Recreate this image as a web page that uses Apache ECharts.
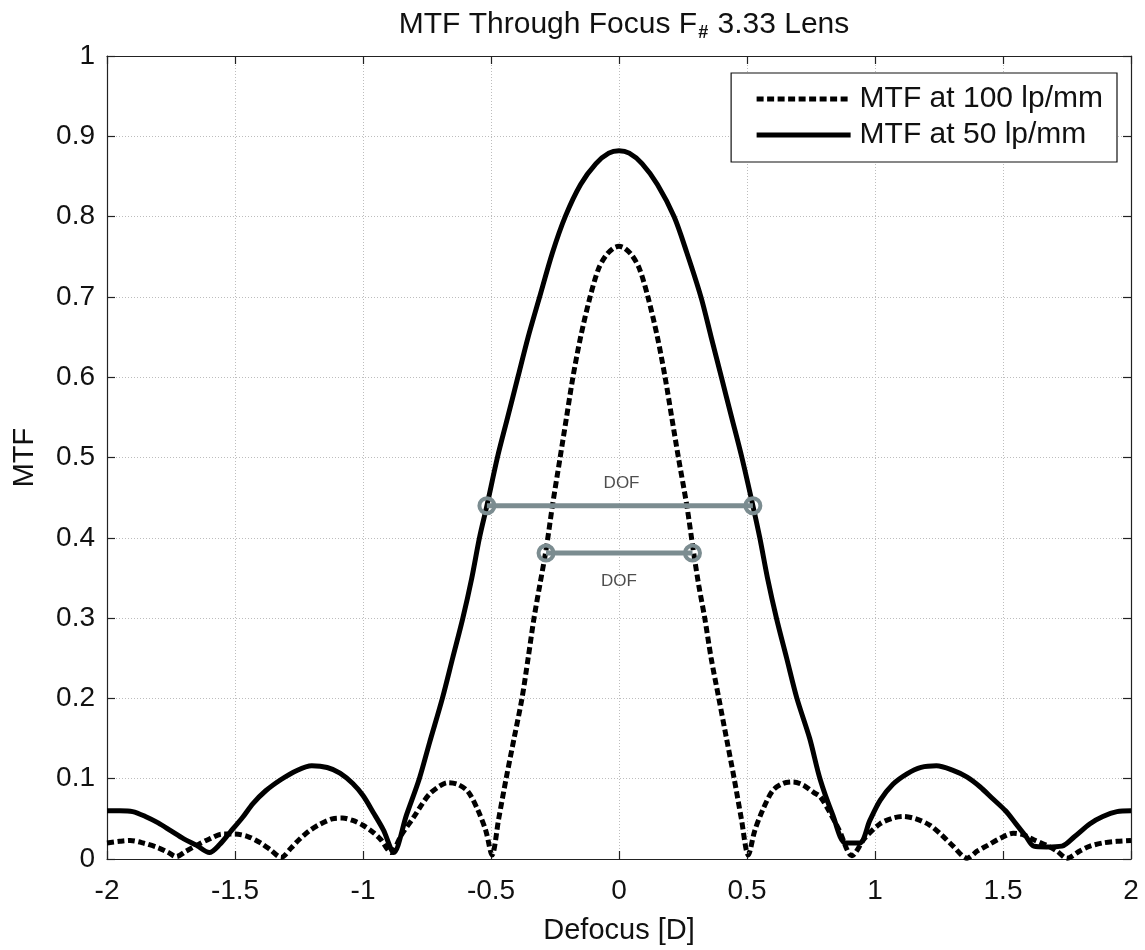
<!DOCTYPE html>
<html>
<head>
<meta charset="utf-8">
<title>MTF Through Focus</title>
<script src="https://cdn.jsdelivr.net/npm/echarts@6/dist/echarts.min.js"></script>
<style>
  html, body { margin: 0; padding: 0; background: #fff; }
  #chart { width: 1145px; height: 950px; }
</style>
</head>
<body>
<div id="chart"></div>
<script>
// Defocus positions [D] and MTF values, 50 lp/mm curve
const defocus50 = [
  -2.00, -1.95, -1.90, -1.85, -1.80, -1.75, -1.70, -1.65, -1.60, -1.56,
  -1.52, -1.47, -1.43, -1.38, -1.32, -1.26, -1.20, -1.14, -1.09, -1.04,
  -1.00, -0.96, -0.92, -0.88, -0.83, -0.78, -0.74, -0.69, -0.65, -0.61,
  -0.575, -0.545, -0.516, -0.475, -0.435, -0.395, -0.355, -0.31, -0.26, -0.21,
  -0.15, -0.09, -0.04, 0.00, 0.04, 0.09, 0.15, 0.215, 0.265, 0.32,
  0.36, 0.40, 0.44, 0.48, 0.523, 0.55, 0.58, 0.615, 0.655, 0.695,
  0.745, 0.785, 0.835, 0.885, 0.94, 0.98, 1.02, 1.07, 1.125, 1.18,
  1.24, 1.30, 1.36, 1.41, 1.46, 1.51, 1.55, 1.59, 1.62, 1.67,
  1.73, 1.78, 1.84, 1.89, 1.945, 2.00
];
const mtf50 = [
  0.060, 0.060, 0.059, 0.053, 0.045, 0.035, 0.025, 0.017, 0.008, 0.018,
  0.033, 0.052, 0.069, 0.085, 0.099, 0.110, 0.116, 0.114, 0.107, 0.094,
  0.079, 0.058, 0.036, 0.008, 0.055, 0.100, 0.145, 0.200, 0.250, 0.300,
  0.350, 0.400, 0.440, 0.500, 0.550, 0.600, 0.650, 0.700, 0.755, 0.800,
  0.840, 0.866, 0.879, 0.882, 0.879, 0.866, 0.840, 0.800, 0.755, 0.700,
  0.650, 0.600, 0.550, 0.500, 0.440, 0.400, 0.350, 0.300, 0.250, 0.200,
  0.150, 0.100, 0.055, 0.020, 0.020, 0.048, 0.073, 0.093, 0.106, 0.114,
  0.116, 0.111, 0.102, 0.090, 0.075, 0.060, 0.044, 0.028, 0.016, 0.015,
  0.016, 0.028, 0.044, 0.053, 0.059, 0.060
];

// Defocus positions [D] and MTF values, 100 lp/mm curve
const defocus100 = [
  -2.00, -1.95, -1.91, -1.86, -1.80, -1.76, -1.73, -1.69, -1.65, -1.60,
  -1.55, -1.50, -1.45, -1.40, -1.36, -1.32, -1.28, -1.25, -1.21, -1.17,
  -1.12, -1.08, -1.04, -1.00, -0.96, -0.93, -0.89, -0.85, -0.80, -0.77,
  -0.74, -0.70, -0.67, -0.63, -0.59, -0.55, -0.52, -0.496, -0.47, -0.441,
  -0.41, -0.379, -0.355, -0.332, -0.31, -0.285, -0.26, -0.23, -0.205, -0.18,
  -0.15, -0.113, -0.08, -0.05, -0.02, 0.00, 0.02, 0.05, 0.08, 0.113,
  0.15, 0.18, 0.206, 0.232, 0.265, 0.29, 0.312, 0.335, 0.36, 0.39,
  0.42, 0.45, 0.478, 0.505, 0.53, 0.56, 0.60, 0.64, 0.68, 0.72,
  0.76, 0.785, 0.82, 0.86, 0.91, 0.96, 1.02, 1.07, 1.11, 1.16,
  1.215, 1.26, 1.305, 1.36, 1.40, 1.44, 1.49, 1.54, 1.58, 1.62,
  1.67, 1.71, 1.75, 1.80, 1.84, 1.89, 1.945, 2.00
];
const mtf100 = [
  0.020, 0.022, 0.023, 0.020, 0.014, 0.008, 0.003, 0.010, 0.017, 0.025,
  0.031, 0.031, 0.028, 0.020, 0.011, 0.002, 0.014, 0.024, 0.035, 0.043,
  0.050, 0.051, 0.048, 0.042, 0.033, 0.024, 0.008, 0.030, 0.053, 0.068,
  0.081, 0.091, 0.095, 0.093, 0.084, 0.060, 0.035, 0.005, 0.050, 0.100,
  0.150, 0.200, 0.250, 0.300, 0.340, 0.385, 0.440, 0.500, 0.550, 0.600,
  0.650, 0.700, 0.735, 0.752, 0.761, 0.763, 0.761, 0.752, 0.735, 0.700,
  0.650, 0.600, 0.550, 0.500, 0.440, 0.385, 0.340, 0.300, 0.250, 0.200,
  0.150, 0.100, 0.050, 0.005, 0.035, 0.060, 0.085, 0.094, 0.096, 0.092,
  0.083, 0.078, 0.060, 0.036, 0.004, 0.026, 0.044, 0.051, 0.053, 0.050,
  0.042, 0.030, 0.016, 0.001, 0.010, 0.017, 0.026, 0.032, 0.030, 0.024,
  0.017, 0.010, 0.001, 0.010, 0.016, 0.020, 0.022, 0.023
];

// Depth-of-focus markers: [left defocus, right defocus, MTF level]
const dof50 = [-0.516, 0.523, 0.44];
const dof100 = [-0.285, 0.287, 0.381];
const dofLabelPos = [[0.01, 0.468], [0.0, 0.346]];

const xTicks = { min: -2, max: 2, interval: 0.5 };
const yTicks = { min: 0, max: 1, interval: 0.1 };

const seriesNames = ['MTF at 100 lp/mm', 'MTF at 50 lp/mm'];
const titleText = 'MTF Through Focus F';

const FONT = '"Liberation Sans", Arial, Helvetica, sans-serif';
const DOF_COLOR = '#7b8c90';

// plot box in pixels
const GRID = { left: 107, right: 14, top: 56, bottom: 84 };
const PAGE_W = 1145;

const pairs = (xs, ys) => xs.map((x, i) => [x, ys[i]]);

const gridLine = { show: true, lineStyle: { color: '#bdbdbd', width: 1, type: [1, 2] } };
const axisLine = { show: true, onZero: false, lineStyle: { color: '#222', width: 1.2 } };
const innerTick = { show: true, inside: true, length: 8, lineStyle: { color: '#222', width: 1.2 } };

const chart = echarts.init(document.getElementById('chart'), null, { renderer: 'canvas' });

chart.setOption({
  backgroundColor: '#fff',
  animation: false,
  textStyle: { fontFamily: FONT },
  title: {
    text: '{a|' + titleText + '}{s|#}{a| 3.33 Lens}',
    left: GRID.left + (PAGE_W - GRID.left - GRID.right) / 2,
    textAlign: 'center',
    top: 3,
    textStyle: {
      fontWeight: 'normal',
      rich: {
        a: { fontFamily: FONT, fontSize: 30, fontWeight: 'normal', color: '#111', lineHeight: 34 },
        s: { fontFamily: FONT, fontSize: 18, fontWeight: 'bold', color: '#111', verticalAlign: 'bottom', lineHeight: 26, padding: [0, 1, 0, 1] }
      }
    }
  },
  legend: {
    orient: 'vertical',
    right: 28,
    top: 73,
    selectedMode: false,
    backgroundColor: '#fff',
    borderColor: '#111',
    borderWidth: 1.2,
    borderRadius: 0,
    padding: [11, 14, 12, 23],
    itemGap: 6,
    itemWidth: 94,
    itemHeight: 32,
    itemStyle: { color: 'rgba(0,0,0,0)', borderWidth: 0 },
    lineStyle: { width: 5 },
    textStyle: { fontFamily: FONT, fontSize: 30, color: '#111', padding: [0, 0, 0, 4] },
    data: seriesNames
  },
  grid: { ...GRID, containLabel: false },
  xAxis: [
    {
      type: 'value', ...xTicks,
      name: 'Defocus [D]', nameLocation: 'middle', nameGap: 57,
      nameTextStyle: { fontFamily: FONT, fontSize: 29, color: '#111' },
      axisLine, axisTick: innerTick, splitLine: gridLine,
      axisLabel: { fontFamily: FONT, fontSize: 28, color: '#111', margin: 18 }
    },
    {
      type: 'value', ...xTicks, position: 'top',
      axisLine, axisTick: innerTick, splitLine: { show: false }, axisLabel: { show: false }
    }
  ],
  yAxis: [
    {
      type: 'value', ...yTicks,
      name: 'MTF', nameLocation: 'middle', nameGap: 68, nameRotate: 90,
      nameTextStyle: { fontFamily: FONT, fontSize: 29, color: '#111' },
      axisLine, axisTick: innerTick, splitLine: gridLine,
      axisLabel: { fontFamily: FONT, fontSize: 28, color: '#111', margin: 12 }
    },
    {
      type: 'value', ...yTicks, position: 'right',
      axisLine, axisTick: innerTick, splitLine: { show: false }, axisLabel: { show: false }
    }
  ],
  series: [
    {
      name: seriesNames[0], type: 'line', data: pairs(defocus100, mtf100),
      showSymbol: false, symbol: 'none', smooth: 0.3,
      lineStyle: { color: '#000', width: 5, type: [7, 3.5] },
      itemStyle: { color: '#000' }, z: 3
    },
    {
      name: seriesNames[1], type: 'line', data: pairs(defocus50, mtf50),
      showSymbol: false, symbol: 'none', smooth: 0.3,
      lineStyle: { color: '#000', width: 5 },
      itemStyle: { color: '#000' }, z: 3
    },
    {
      name: 'DOF 50', type: 'line',
      data: [[dof50[0], dof50[2]], [dof50[1], dof50[2]]],
      symbol: 'circle', symbolSize: 15, showSymbol: true,
      lineStyle: { color: DOF_COLOR, width: 5 },
      itemStyle: { color: 'rgba(0,0,0,0)', borderColor: DOF_COLOR, borderWidth: 4 },
      z: 4
    },
    {
      name: 'DOF 100', type: 'line',
      data: [[dof100[0], dof100[2]], [dof100[1], dof100[2]]],
      symbol: 'circle', symbolSize: 15, showSymbol: true,
      lineStyle: { color: DOF_COLOR, width: 5 },
      itemStyle: { color: 'rgba(0,0,0,0)', borderColor: DOF_COLOR, borderWidth: 4 },
      z: 4
    },
    {
      name: 'DOF labels', type: 'scatter',
      data: dofLabelPos,
      symbolSize: 1,
      itemStyle: { color: 'rgba(0,0,0,0)' },
      label: {
        show: true, position: 'inside', formatter: 'DOF',
        fontFamily: FONT, fontSize: 17, color: '#222'
      },
      z: 5
    }
  ]
});
</script>
</body>
</html>
